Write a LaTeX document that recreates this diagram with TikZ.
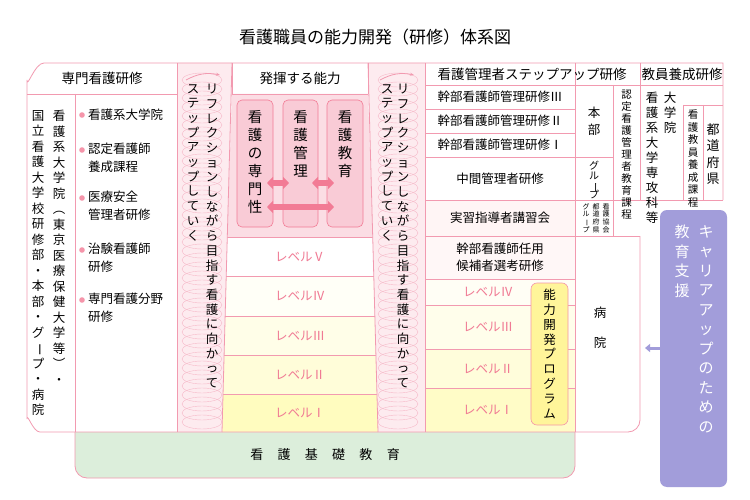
\documentclass[tikz,border=0pt]{standalone}
\usepackage{fontspec}
\usepackage{graphicx}
\setmainfont{Noto Sans CJK JP}
\usetikzlibrary{arrows.meta}
\definecolor{ln}{HTML}{F29AB0}
\definecolor{pk}{HTML}{FBDDE4}
\definecolor{bx}{HTML}{F9CBD6}
\definecolor{ar}{HTML}{F27B95}
\definecolor{lv}{HTML}{F07A94}
\definecolor{gr}{HTML}{DCEEDB}
\definecolor{pu}{HTML}{A29DDA}
\definecolor{ye}{HTML}{FFF59A}
\ExplSyntaxOn
\NewDocumentCommand\vt{O{15.5pt}m}{\vbox{\baselineskip=#1\lineskip=0pt\lineskiplimit=-20pt
 \tl_map_inline:nn{#2}{\hbox to 1em{\hss##1\hss}}}}
\ExplSyntaxOff
\newcommand\lb{{\rotatebox[origin=c]{-90}{ー}}}
\begin{document}
\begin{tikzpicture}[x=1pt,y=-1pt,
  ln/.style={draw=ln,line width=0.8pt},
  t/.style={font=\fontsize{12.5}{15}\selectfont,inner sep=0pt},
  lvl/.style={t,text=lv},
  vtn/.style={t,anchor=north},
  pbox/.style={draw=ar,fill=bx,rounded corners=5pt,line width=0.6pt},
  dar/.style={ar,line width=6pt,{Triangle[length=6pt,width=12pt]}-{Triangle[length=6pt,width=12pt]}},
  coil/.style={draw=ln!70,line width=0.4pt}]
\useasboundingbox (0,0) rectangle (750,500);
\fill[white] (0,0) rectangle (750,500);
\node[t,font=\fontsize{17}{19}\selectfont] (title) at (375,37) {看護職員の能力開発（研修）体系図};
% green base
\fill[gr,rounded corners=12pt] (75,432) -- (75,478) -- (575,478) -- (575,432);
\draw[ln,rounded corners=12pt] (75,432) -- (75,478) -- (575,478) -- (575,432);
\node[t,font=\fontsize{13}{15}\selectfont] (kiso) at (325,455) {看\hspace{1.1em}護\hspace{1.1em}基\hspace{1.1em}礎\hspace{1.1em}教\hspace{1.1em}育};
% center pink area and levels
\fill[pk] (232,94) -- (368,94) -- (372.7,237) -- (227.3,237) -- cycle;
\fill[white] (227.3,237) -- (372.7,237) -- (373.8,276) -- (226.2,276) -- cycle;
\fill[yellow!3] (226.2,276) -- (373.8,276) -- (374.9,316) -- (225.1,316) -- cycle;
\fill[yellow!9] (225.1,316) -- (374.9,316) -- (375.9,355) -- (224.1,355) -- cycle;
\fill[yellow!15] (224.1,355) -- (375.9,355) -- (377,394) -- (223,394) -- cycle;
\fill[yellow!25] (223,394) -- (377,394) -- (378,432) -- (222,432) -- cycle;
\foreach \a/\b/\y in {232/368/94,227.3/372.7/237,226.2/373.8/276,225.1/374.9/316,224.1/375.9/355,223/377/394}
  \draw[ln] (\a,\y) -- (\b,\y);
\node[lvl] (c5) at (300,257) {レベルⅤ};
\node[lvl] (c4) at (300,296) {レベルⅣ};
\node[lvl] (c3) at (300,336) {レベルⅢ};
\node[lvl] (c2) at (300,375) {レベルⅡ};
\node[lvl] (c1) at (300,413) {レベルⅠ};
\node[t,font=\fontsize{13.5}{15}\selectfont] (hakki) at (300,78) {発揮する能力};
\node[pbox,minimum width=36pt,minimum height=127pt] (b1) at (255,163.5) {};
\node[pbox,minimum width=35pt,minimum height=127pt] (b2) at (300.5,163.5) {};
\node[pbox,minimum width=36pt,minimum height=127pt] (b3) at (345,163.5) {};
\coordinate (a1) at (267,183); \coordinate (a2) at (289,183);
\coordinate (a3) at (312,183); \coordinate (a4) at (334,183);
\coordinate (a5) at (267,207); \coordinate (a6) at (334,207);
\draw[dar] (a1) -- (a2);
\draw[dar] (a3) -- (a4);
\draw[dar] (a5) -- (a6);
\node[vtn,font=\fontsize{14.5}{15}\selectfont] (b1t) at (255,110) {\vt[18pt]{看護の専門性}};
\node[vtn,font=\fontsize{14.5}{15}\selectfont] (b2t) at (300.5,110) {\vt[18pt]{看護管理}};
\node[vtn,font=\fontsize{14.5}{15}\selectfont] (b3t) at (345,110) {\vt[18pt]{看護教育}};
% spiral columns
\fill[pk!60] (177,63) -- (232,63) -- (222,432) -- (177,432) -- cycle;
\fill[pk!60] (368,63) -- (425,63) -- (425,432) -- (378,432) -- cycle;
\foreach \y in {80,89,...,425} {
  \draw[coil] (202,\y) ellipse[x radius=20,y radius=7];
  \draw[coil] (398,\y) ellipse[x radius=20,y radius=7];}
\draw[ln,-{Stealth[length=4pt]}] (186,80) to[bend left=20] (220,75);
\draw[ln,-{Stealth[length=4pt]}] (380,80) to[bend left=20] (414,75);
\node[vtn] (s1a) at (212,84) {\vt[14.7pt]{リフレクションしながら目指す看護に向かって}};
\node[vtn] (s1b) at (193,84) {\vt[14.7pt]{ステップアップしていく}};
\node[vtn] (s2a) at (403,84) {\vt[14.7pt]{リフレクションしながら目指す看護に向かって}};
\node[vtn] (s2b) at (387,84) {\vt[14.7pt]{ステップアップしていく}};
\draw[ln] (177,63) -- (177,432);
\draw[ln] (232,63) -- (222,432);
\draw[ln] (368,63) -- (378,432);
% left section
\node[t,font=\fontsize{13.5}{15}\selectfont] (senmon) at (102,78) {専門看護研修};
\draw[ln] (27,94) -- (177,94);
\draw[ln] (75,94) -- (75,432);
\node[vtn] (l1) at (38,110) {\vt{国立看護大学校研修部・本部・グ\lb プ・病院}};
\node[vtn] (l2) at (59,110) {\vt{看護系大学院︵東京医療保健大学等︶・}};
\foreach \y in {115,150,198,250,300} \fill[ar!80] (82,\y) circle[radius=2.8pt];
\node[t,anchor=west] (p1) at (88,115) {看護系大学院};
\node[t,anchor=north west,align=left,font=\fontsize{12.5}{18}\selectfont] (p2) at (88,143) {認定看護師\\養成課程};
\node[t,anchor=north west,align=left,font=\fontsize{12.5}{18}\selectfont] (p3) at (88,191) {医療安全\\管理者研修};
\node[t,anchor=north west,align=left,font=\fontsize{12.5}{18}\selectfont] (p4) at (88,243) {治験看護師\\研修};
\node[t,anchor=north west,align=left,font=\fontsize{12.5}{18}\selectfont] (p5) at (88,293) {専門看護分野\\研修};
% right section fills
\fill[red!4] (425,200) rectangle (575,236);
\fill[red!3] (425,236) rectangle (575,279);
\fill[yellow!4] (425,279) rectangle (575,305);
\fill[yellow!8] (425,305) rectangle (575,349);
\fill[yellow!14] (425,349) rectangle (575,388);
\fill[yellow!22] (425,388) rectangle (575,432);
\foreach \y in {85,109,133,157,200,236,279,305,349,388} \draw[ln] (425,\y) -- (575,\y);
\draw[ln] (575,85) -- (723,85);
\draw[ln] (575,157) -- (613,157);
\draw[ln] (575,200) -- (723,200);
\draw[ln] (575,236) -- (613,236);
\draw[ln] (683,105) -- (723,105);
\draw[ln] (575,63) -- (575,432);
\draw[ln] (613,85) -- (613,236);
\draw[ln] (640,63) -- (640,200);
\draw[ln] (683,105) -- (683,200);
\draw[ln] (703,105) -- (703,200);
\draw[ln] (425,63) -- (425,432);
\node[t,font=\fontsize{13.5}{15}\selectfont] (kanri) at (532,74) {看護管理者ステップアップ研修};
\node[t,font=\fontsize{13.5}{15}\selectfont] (kyoin) at (682,74) {教員養成研修};
\node[t] (k3) at (500,97) {幹部看護師管理研修Ⅲ};
\node[t] (k2) at (500,121) {幹部看護師管理研修Ⅱ};
\node[t] (k1) at (500,145) {幹部看護師管理研修Ⅰ};
\node[t] (chukan) at (500,178.5) {中間管理者研修};
\node[t] (jisshu) at (500,218) {実習指導者講習会};
\node[t,align=center,font=\fontsize{12.5}{17}\selectfont] (ninyo) at (500,257.5) {幹部看護師任用\\候補者選考研修};
\node[lvl] (r4) at (488,292) {レベルⅣ};
\node[lvl] (r3) at (488,327) {レベルⅢ};
\node[lvl] (r2) at (488,368.5) {レベルⅡ};
\node[lvl] (r1) at (488,410) {レベルⅠ};
\node[draw=ar!80,fill=ye,rounded corners=6pt,minimum width=37pt,minimum height=142pt,line width=0.6pt] (noryoku) at (549.5,354) {};
\node[vtn] (noryokut) at (549.5,289) {\vt[14.8pt]{能力開発プログラム}};
\node[vtn] (honbu) at (594,107) {\vt[17pt]{本部}};
\node[vtn,font=\fontsize{10}{11}\selectfont] (grp) at (594,161) {\vt[9.8pt]{グル\lb プ}};
\node[vtn,font=\fontsize{7}{8}\selectfont] (kkyo) at (606,203) {\vt[7.8pt]{看護協会}};
\node[vtn,font=\fontsize{7}{8}\selectfont] (todo2) at (596,203) {\vt[7.8pt]{都道府県}};
\node[vtn,font=\fontsize{7}{8}\selectfont] (grp2) at (586,203) {\vt[7.8pt]{グル\lb プ}};
\node[vtn,font=\fontsize{10.5}{12}\selectfont] (nintei) at (626.5,90) {\vt[12pt]{認定看護管理者教育課程}};
\node[vtn] (dai) at (670,92) {\vt[15pt]{大学院}};
\node[vtn] (dai2) at (652,92) {\vt[15pt]{看護系大学専攻科等}};
\node[vtn,font=\fontsize{10.5}{12}\selectfont] (kyoyo) at (693,110) {\vt[12.5pt]{看護教員養成課程}};
\node[vtn,font=\fontsize{13}{15}\selectfont] (todo) at (713,123) {\vt[16.5pt]{都道府県}};
\node[t] (byo) at (600,313) {病};
\node[t] (in) at (600,343) {院};
% outer frame
\draw[ln] (177,432) -- (40,432) to[out=180,in=90] (27,419) -- (27,80) to[out=-90,in=180] (44,63) -- (723,63) -- (723,200);
\draw[ln] (232,63) -- (232,94) (368,63) -- (368,94);
\draw[ln] (177,432) -- (628,432) to[out=0,in=-90] (640,420) -- (640,236);
\draw[ln] (575,236) -- (640,236);
% purple
\node[fill=pu,rounded corners=7pt,minimum width=67pt,minimum height=277pt] (pur) at (693.5,348.5) {};
\node[vtn,text=white,font=\fontsize{15}{17}\selectfont] (pur1) at (706,225) {\vt[19.5pt]{キャリアアップのための}};
\node[vtn,text=white,font=\fontsize{15}{17}\selectfont] (pur2) at (682,225) {\vt[19.5pt]{教育支援}};
\coordinate (parr) at (645,348);
\draw[pu,line width=3pt,-{Triangle[length=5pt,width=8pt]}] (pur.west|-parr) -- (parr);
\end{tikzpicture}
\end{document}
